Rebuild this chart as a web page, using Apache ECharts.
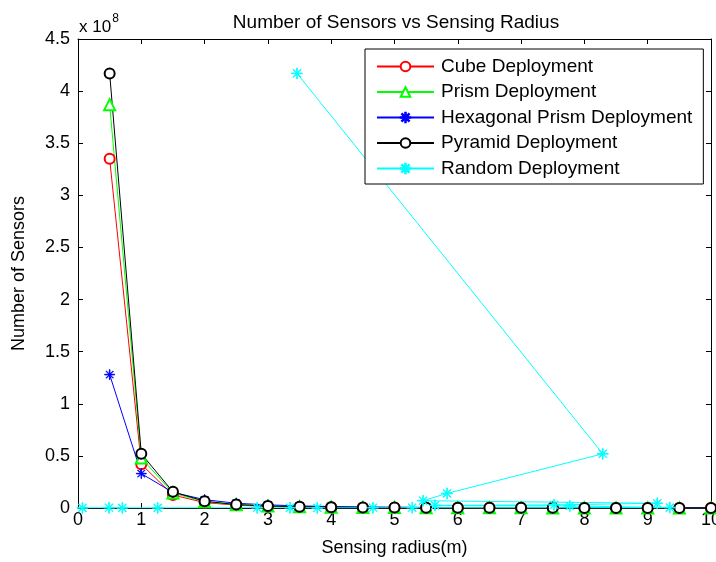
<!DOCTYPE html>
<html>
<head>
<meta charset="utf-8">
<script src="https://cdn.jsdelivr.net/npm/echarts@6/dist/echarts.min.js"></script>
<style>
  body { margin: 0; padding: 0; background: #fff; }
  #main { width: 716px; height: 562px; }
</style>
</head>
<body>
<div id="main"></div>
<script>
// sensing radius (m) for the regular deployments
var radius = [0.5, 1, 1.5, 2, 2.5, 3, 3.5, 4, 4.5, 5, 5.5, 6, 6.5, 7, 7.5, 8, 8.5, 9, 9.5, 10];
// number of sensors, in units of 1e8
var cube = [3.35, 0.42, 0.124, 0.052, 0.027, 0.0155, 0.0098, 0.0065, 0.0046, 0.0034, 0.0025, 0.0019, 0.0015, 0.0012, 0.001, 0.0008, 0.0007, 0.0006, 0.0005, 0.0004];
var prism = [3.87, 0.48, 0.143, 0.06, 0.031, 0.018, 0.011, 0.0075, 0.0053, 0.0039, 0.0029, 0.0022, 0.0018, 0.0014, 0.0011, 0.0009, 0.0008, 0.0007, 0.0006, 0.0005];
var hexPrism = [1.28, 0.33, 0.15, 0.08, 0.045, 0.03, 0.02, 0.014, 0.01, 0.008, 0.006, 0.005, 0.004, 0.003, 0.0025, 0.002, 0.0018, 0.0015, 0.0012, 0.001];
var pyramid = [4.17, 0.52, 0.155, 0.065, 0.033, 0.019, 0.012, 0.008, 0.0057, 0.0042, 0.0031, 0.0024, 0.0019, 0.0015, 0.0012, 0.001, 0.0009, 0.0008, 0.0007, 0.0006];
// random deployment, points in the order they were plotted: [radius, sensors/1e8]
var randomPts = [
  [0.07, 0.001], [0.49, 0.002], [0.70, 0.001], [1.26, 0.001], [2.83, 0.002],
  [3.35, 0.002], [3.78, 0.001], [4.66, 0.002], [5.28, 0.003], [9.35, 0.004],
  [7.77, 0.02], [5.64, 0.025], [7.52, 0.03], [9.15, 0.045], [5.45, 0.07],
  [5.83, 0.14], [8.29, 0.52], [3.46, 4.17]
];
var yTicks = ['0', '0.5', '1', '1.5', '2', '2.5', '3', '3.5', '4', '4.5'];

var star = 'path://M9.4 0L10.6 0L10.6 20L9.4 20Z M0 9.4L20 9.4L20 10.6L0 10.6Z' +
  'M16.6 17.4L17.4 16.6L3.4 2.6L2.6 3.4Z M17.4 3.4L16.6 2.6L2.6 16.6L3.4 17.4Z';

function pairs(ys) {
  var out = [];
  for (var i = 0; i < ys.length; ++i) out.push([radius[i], ys[i]]);
  return out;
}

var font = 'Liberation Sans, Arial, sans-serif';
var chart = echarts.init(document.getElementById('main'));

function line(name, color, symbol, size, data) {
  return {
    name: name,
    type: 'line',
    data: data,
    symbol: symbol,
    symbolSize: size,
    showAllSymbol: true,
    lineStyle: { color: color, width: 1 },
    itemStyle: { color: color, borderColor: color, borderWidth: 0.9 },
    emphasis: { disabled: true },
    animation: false
  };
}

var option = {
  backgroundColor: '#fff',
  textStyle: { fontFamily: font },
  title: [
    {
      text: 'Number of Sensors vs Sensing Radius',
      left: 391, top: 8, textAlign: 'center',
      textStyle: { fontSize: 19, fontWeight: 'normal', color: '#000', fontFamily: font }
    },
    {
      text: '{a|x 10}{b|8}',
      left: 74, top: 4,
      textStyle: {
        fontWeight: 'normal',
        rich: {
          a: { fontSize: 17, fontWeight: 'normal', color: '#000', fontFamily: font, padding: [10, 0, 0, 0] },
          b: { fontSize: 12, fontWeight: 'normal', color: '#000', fontFamily: font, padding: [0, 0, 8, 1] }
        }
      }
    }
  ],
  legend: {
    orient: 'vertical',
    left: 365, top: 49,
    padding: [8, 11, 6, 11],
    itemGap: 6.5,
    itemWidth: 57,
    itemHeight: 12,
    backgroundColor: '#fff',
    borderColor: '#000',
    borderWidth: 1,
    textStyle: { fontSize: 19, color: '#000', fontFamily: font, padding: [0, 0, 0, 2] },
    selectedMode: false,
    data: ['Cube Deployment', 'Prism Deployment', 'Hexagonal Prism Deployment', 'Pyramid Deployment', 'Random Deployment']
  },
  grid: { left: 78, right: 5, top: 39, bottom: 54, outerBoundsMode: 'none' },
  xAxis: [
    {
      type: 'value', min: 0, max: 10, interval: 1,
      name: 'Sensing radius(m)', nameLocation: 'middle', nameGap: 31,
      nameTextStyle: { fontSize: 18, color: '#000', fontFamily: font },
      axisLine: { onZero: false, lineStyle: { color: '#000', width: 1 } },
      axisTick: { inside: true, length: 5, lineStyle: { color: '#000' } },
      axisLabel: { fontSize: 18, color: '#000', margin: 3, fontFamily: font },
      splitLine: { show: false }
    },
    {
      type: 'value', min: 0, max: 10, interval: 1, position: 'top',
      axisLine: { onZero: false, lineStyle: { color: '#000', width: 1 } },
      axisTick: { inside: true, length: 5, lineStyle: { color: '#000' } },
      axisLabel: { show: false },
      splitLine: { show: false }
    }
  ],
  yAxis: [
    {
      type: 'value', min: 0, max: 4.5, interval: 0.5,
      name: 'Number of Sensors', nameLocation: 'middle', nameGap: 50,
      nameTextStyle: { fontSize: 18, color: '#000', fontFamily: font },
      axisLine: { onZero: false, lineStyle: { color: '#000', width: 1 } },
      axisTick: { inside: true, length: 5, lineStyle: { color: '#000' } },
      axisLabel: {
        fontSize: 18, color: '#000', margin: 8, fontFamily: font,
        formatter: function (v) { return yTicks[Math.round(v / 0.5)]; }
      },
      splitLine: { show: false }
    },
    {
      type: 'value', min: 0, max: 4.5, interval: 0.5, position: 'right',
      axisLine: { onZero: false, lineStyle: { color: '#000', width: 1 } },
      axisTick: { inside: true, length: 5, lineStyle: { color: '#000' } },
      axisLabel: { show: false },
      splitLine: { show: false }
    }
  ],
  series: [
    line('Cube Deployment', '#ff0000', 'emptyCircle', 10, pairs(cube)),
    line('Prism Deployment', '#00ff00', 'emptyTriangle', 11, pairs(prism)),
    line('Hexagonal Prism Deployment', '#0000ff', star, 10, pairs(hexPrism)),
    line('Pyramid Deployment', '#000000', 'emptyCircle', 10, pairs(pyramid)),
    line('Random Deployment', '#00ffff', star, 11, randomPts)
  ]
};

chart.setOption(option);
</script>
</body>
</html>
